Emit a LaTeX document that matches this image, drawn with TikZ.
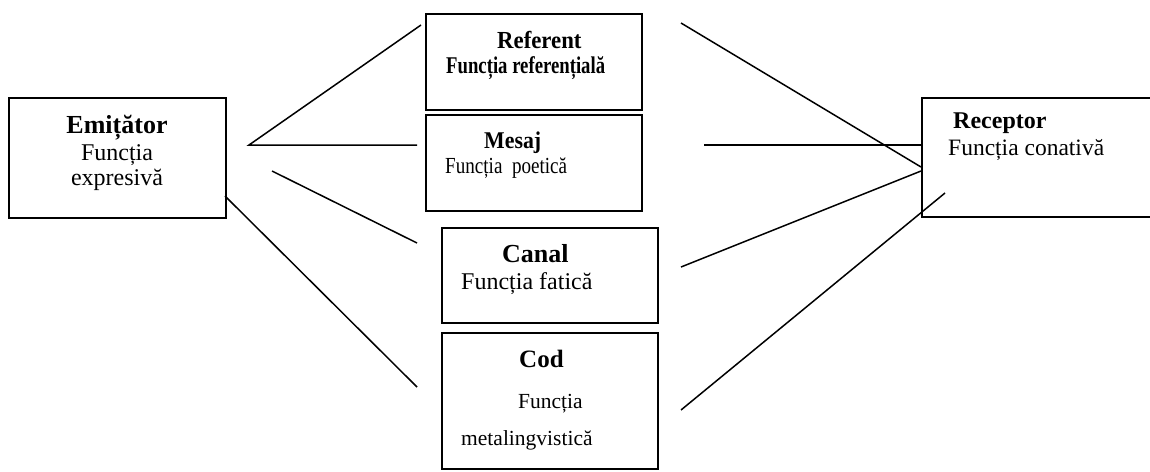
\documentclass[tikz,border=0pt]{standalone}
\usepackage{fontspec}
\usepackage{graphicx}
\setmainfont{Liberation Serif}
\tikzset{
  x=1pt, y=-1pt,
  box/.style={draw, line width=1.6pt, anchor=north west, inner sep=0pt},
  conn/.style={line width=1.5pt},
  txt/.style={inner sep=0pt, anchor=base west},
  ctxt/.style={inner sep=0pt, anchor=base},
}
\newcommand{\fs}[1]{\fontsize{#1}{#1}\selectfont}
\begin{document}
\begin{tikzpicture}
\useasboundingbox (0,0) rectangle (1150,471);
\clip (0,0) rectangle (1150,471);
% boxes
\node[box, minimum width=217pt, minimum height=120pt] (emit) at (8,97) {};
\node[box, minimum width=216pt, minimum height=96pt] (ref) at (425,13) {};
\node[box, minimum width=216pt, minimum height=96pt] (mes) at (425,114) {};
\node[box, minimum width=216pt, minimum height=95pt] (can) at (441,227) {};
\node[box, minimum width=216pt, minimum height=136pt] (cod) at (441,332) {};
\node[box, minimum width=250pt, minimum height=119pt] (rec) at (921,97) {};
% texts
\node[ctxt] (emitT) at (117,133) {\fs{26}\bfseries Emițător};
\node[ctxt] (emitA) at (117,160) {\fs{24}Funcția};
\node[ctxt] (emitB) at (117,185) {\fs{24}expresivă};
\node[txt] (refT) at (497,48) {\fs{24.5}\bfseries\scalebox{0.93}[1]{Referent}};
\node[txt] (refA) at (446,73) {\fs{24}\bfseries\scalebox{0.78}[1]{Funcția referențială}};
\node[txt] (mesT) at (484,148) {\fs{24}\bfseries\scalebox{0.91}[1]{Mesaj}};
\node[txt] (mesA) at (445,173) {\fs{23}\scalebox{0.83}[1]{Funcția\ \ poetică}};
\node[txt] (canT) at (502,262) {\fs{26}\bfseries Canal};
\node[txt] (canA) at (461,289) {\fs{24}Funcția fatică};
\node[txt] (codT) at (519,367) {\fs{25}\bfseries Cod};
\node[txt] (codA) at (518,408) {\fs{21.5}Funcția};
\node[txt] (codB) at (461,445) {\fs{21.5}metalingvistică};
\node[txt] (recT) at (953,128) {\fs{24}\bfseries Receptor};
\node[txt] (recA) at (948,155) {\fs{23.5}Funcția conativă};
% free ends
\coordinate (hubL) at (249,145);
\coordinate (l1e) at (421,25);
\coordinate (l2e) at (417,145);
\coordinate (l3s) at (272,171);
\coordinate (l3e) at (417,243);
\coordinate (l4s) at (225,196);
\coordinate (l4e) at (417,387);
\coordinate (r1s) at (681,23);
\coordinate (r1e) at (921,167);
\coordinate (r2s) at (704,145);
\coordinate (r2e) at (921,145);
\coordinate (r3s) at (681,267);
\coordinate (r3e) at (921,171);
\coordinate (r4s) at (681,410);
\coordinate (r4e) at (945,193);
% connectors
\draw[conn] (l1e) -- (hubL) -- (l2e);
\draw[conn] (l3s) -- (l3e);
\draw[conn] (l4s) -- (l4e);
\draw[conn] (r1s) -- (r1e);
\draw[conn] (r2s) -- (r2e);
\draw[conn] (r3s) -- (r3e);
\draw[conn] (r4s) -- (r4e);
\end{tikzpicture}
\end{document}
